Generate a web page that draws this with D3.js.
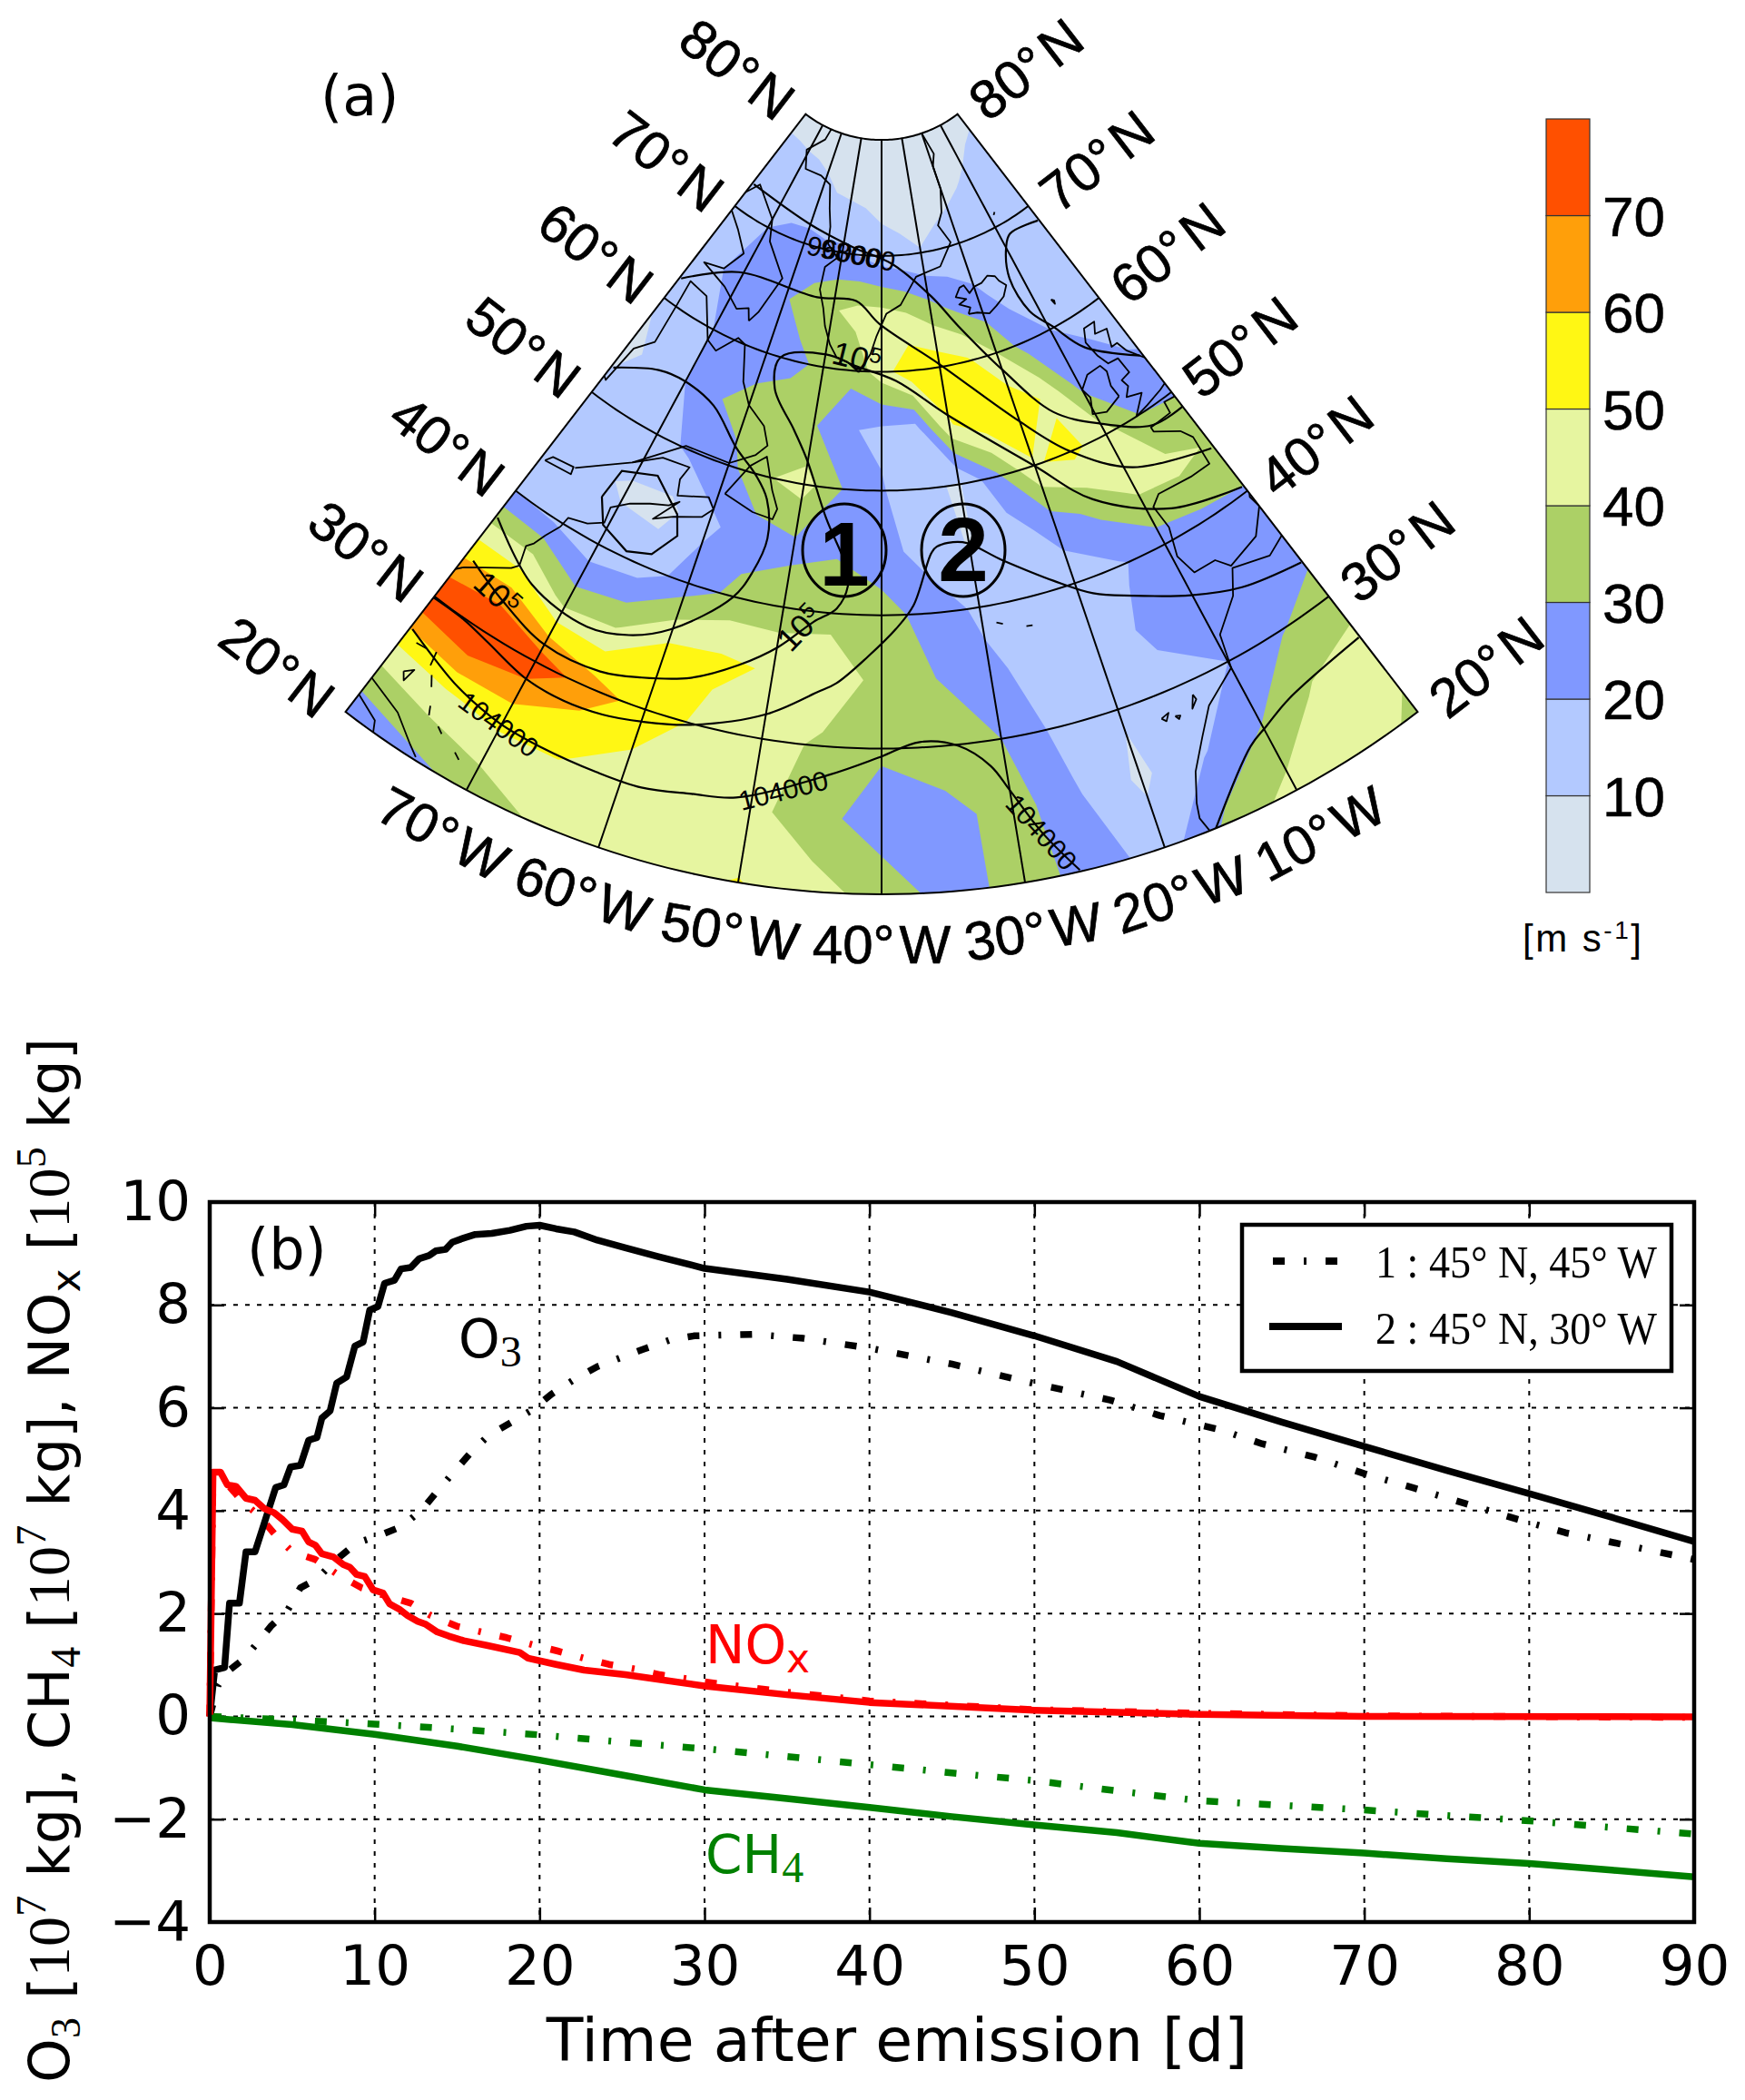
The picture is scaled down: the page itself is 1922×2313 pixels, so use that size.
<!DOCTYPE html><html><head><meta charset="utf-8"><style>html,body{margin:0;background:#fff}svg{display:block}</style></head><body><script src="https://cdn.jsdelivr.net/npm/d3@7"></script><svg id="s" width="1922" height="2313"></svg>
<script>
// ---------- panel (a) data: wind speed [m/s] on a 5 degree grid, lon -80..0 ----------
const gridLons=d3.range(-80,1,5), gridLats=d3.range(20,81,5);
const wind20=[22,27,33,41,45,47,50.5,44,36,25,35,25,15,33,44,45,38];
const wind25=[45,49,52,51,46,44,43,34,24,26,35,21,8,19,30,42,44];
const wind30=[80,85,77,65,56,47.5,45,38,32,37,30,17,11,17,20,29,36];
const wind35=[52,52,36,39,51,52,49,48,36,30,22,16,13,22,25,25,24];
const wind40=[20,18,13,15,24,33,34,36,34,26,18,14,14,19,25,27,29];
const wind45=[12,12,9,7,18,25,28,29,24,16,9.5,15,25,33,42,43,39];
const wind50=[12,13,16,22,27,39,44,30,21,12,9,28,49,53,44,30,29];
const wind55=[8,12,20,29,34,37,31,21,18,16,49,58,57,48,26,23,19];
const wind60=[11,14,20,24,25,27,33,34,45,58,56,51.5,40,25,20,17,13];
const wind65=[15,19,24,26,29,35,39,43,43,40,34,27,22,17,14,13,12];
const wind70=[15,17,20,22,23,22,22,19,15,13,10.5,13,14,15,15,16,19];
const wind75=[13,14,14,14,12,10,9,8,6,5,5,6,8,9.5,11,13,14];
const wind80=[8,7,6,5,5,4,4,4,4,4,4,4,5,5,6,7,8];
const windRows=[wind20,wind25,wind30,wind35,wind40,wind45,wind50,wind55,wind60,wind65,wind70,wind75,wind80];
const windLevels=[0,10,20,30,40,50,60,70];
const windColors=["#d6e2ee","#b3c9ff","#8098ff","#acd066","#e6f5a0","#fff714","#ff9f0a","#ff5000"];
const windTicks=[10,20,30,40,50,60,70];
// isobars [lon,lat]
const isobar1=[[-79.5,72.5],[-59.9,71.7],[-47.4,70.6],[-37.5,69.3],[-29.3,66.1],[-25.2,63.1],[-20,58.5],[-15.1,53.6],[-10,51],[-4.4,48.7],[0.1,48.5]];
const isobar2=[[-0.3,68.5],[-7.6,68.9],[-10,68],[-12.4,65.5],[-11.7,62.2],[-9.3,60.1],[-6.5,57.2],[-0.4,54]];
const isobar3=[[-79.7,62.2],[-70.9,65.4],[-53.7,65.8],[-45.4,66],[-40.4,64.1],[-30.1,60.3],[-20.2,54],[-15.2,50.1],[-9.1,46.6],[-0.3,44.4]];
const isobar4=[[-79.7,52.7],[-74.2,54.7],[-70.1,55],[-64.8,54.2],[-59.8,51.6],[-56.3,49.9],[-54.2,48.2],[-53.1,45.1],[-53.9,42.2],[-55.3,39.9],[-60.2,36.2],[-63.6,34.7],[-67.4,34],[-73.6,34.8],[-79.8,37.5]];
const isobar5=[[-0.2,40.5],[-7.6,42.2],[-14.9,45.7],[-20.1,50],[-30.1,55.9],[-37.6,59.2],[-44.4,60.4],[-49.9,61.1],[-57.5,60],[-57,57.3],[-52.7,54.3],[-50.1,52],[-46.7,47.5],[-43.9,43.7],[-43.6,42.2],[-44.6,40.4],[-46.8,39.2],[-49.9,36.9],[-53.2,35],[-57.1,33.2],[-61.2,32.1],[-64.7,31.4],[-70,31.4],[-75,32.6],[-79.2,33.8]];
const isobar6=[[-80,29.9],[-76.9,29.9],[-74.3,29.5],[-70,28.6],[-66.5,28.4],[-63.1,28.6],[-59.9,29.1],[-56,29.9],[-50,31.8],[-45.8,33.9],[-44.1,34.7],[-41.3,36.8],[-38.6,38.9],[-36.7,40.7],[-34.4,44.7],[-33.7,45.2],[-30.7,45.3],[-26.7,43.3],[-22,40.7],[-18.6,38.8],[-15.1,37.5],[-10.1,35.6],[-5.7,34.2],[-0.1,33.2]];
const isobar7=[[-79.8,27.2],[-76.9,26.4],[-74.3,25.7],[-70.2,25],[-66.6,24.8],[-62,24.7],[-58.4,24.7],[-54.6,25.2],[-51.2,25.6],[-44.2,28],[-40.1,29.4],[-36.8,30.4],[-33.6,29.9],[-31.2,28.2],[-30,26.3],[-28.2,23.1],[-26.1,20.1]];
const isobar8=[[-16.2,20],[-11.5,24],[-9.8,24.7],[-7.2,25.6],[-0.1,26.4]];
const isobarLoop=[[-72.1,43.4],[-71.6,46],[-67.6,47],[-63.7,44.8],[-62.8,43.2],[-64.6,41.1],[-67.1,40.5],[-70.5,41.5],[-72.1,43.4]];
const isobars=[isobar1,isobar2,isobar3,isobar4,isobar5,isobar6,isobar7,isobar8];
const isobarLabels=[[-49.5,70.1,"96000",11],[-46,70,"98000",11],[-44.5,61,"105",14],[-75.8,32.7,"105",42],[-48,38.5,"105",-46],[-70.2,24.9,"104000",36],[-47.7,26.6,"104000",-14],[-28.2,23.1,"104000",48]];
// coastlines [lon,lat]
const coastGreenlandW=[[-43.9,59.9],[-46,60.7],[-48,61],[-49.5,62],[-51,63.5],[-52,65],[-53.5,66.5],[-53.5,68.5],[-51,69.5],[-54,70.5],[-54.5,72],[-56,73.5],[-58,75.5],[-62,76],[-68,76],[-71,77.5],[-66,79],[-65,80.5]];
const coastGreenlandE=[[-43.9,59.9],[-42,61.5],[-41,63],[-39,65],[-36,65.7],[-32,68],[-26,68.5],[-22,70.3],[-24,72],[-22,73],[-20,75],[-20,77],[-18,78],[-20,80],[-16,81]];
const coastIceland=[[-22.7,63.9],[-22,64.4],[-24,64.9],[-22.3,65.2],[-24.3,65.6],[-23,66.3],[-22,66.4],[-21.3,65.6],[-20,66],[-18.2,66.1],[-16.5,66.5],[-15,66.2],[-14.6,65.7],[-13.6,65.1],[-15,64.3],[-17,63.8],[-18.8,63.4],[-21,63.8],[-22.7,63.9]];
const coastBritain=[[-5.5,50],[-3.5,50.3],[-1,50.7],[1.4,51.2],[1.7,52.7],[0,53],[0,53.6],[-1.5,55],[-2,56],[-3,56],[-2,57.5],[-4,57.7],[-3,58.6],[-5,58.6],[-6,57.5],[-5.5,56],[-4.8,55],[-3.2,54.9],[-3,53.4],[-4.5,53.2],[-4.2,52.5],[-5.2,51.8],[-3.2,51.4],[-5.5,50]];
const coastIreland=[[-6,52.2],[-8.5,51.6],[-10.3,52],[-9.5,53.3],[-10,54.2],[-8.3,55.1],[-6,55.2],[-5.6,54.5],[-6.2,53.3],[-6,52.2]];
const coastIberia=[[1,50],[0.5,49.5],[-1.5,49.7],[-1.7,48.7],[-4.7,48.6],[-4.7,48.2],[-2,47],[-1.2,46],[-1.5,43.5],[-4,43.5],[-8,43.7],[-9.2,43],[-8.8,41],[-9.5,38.7],[-8.8,37],[-6.5,37],[-5.5,36],[-2,36.8],[0,38.5],[-0.2,39.5],[1,41]];
const coastAfrica=[[1,36],[-2,35],[-5.5,35.8],[-6.8,34],[-9.5,32],[-10,29.5],[-13,27.8],[-14.5,26],[-16,24],[-16.8,22],[-17,21],[-16.5,19.5]];
const coastEastUS=[[-81,31.5],[-79.5,33],[-78,33.9],[-76,35],[-75.5,35.5],[-76,37],[-75.5,37.5],[-75,38.5],[-74.2,39.7],[-74,40.6],[-72,41],[-70.5,41.7],[-70.7,43],[-69,44],[-67,44.7],[-65,45.2],[-64,45.8],[-66,43.7],[-64,44.5],[-61,45.3],[-60,46.2],[-61,47],[-64.5,46.2],[-65,47.5],[-64.5,48.7],[-68,48.5],[-71,47],[-74,45.5],[-76.3,44.2]];
const coastLabrador=[[-71,47],[-66,50.2],[-60,50.2],[-57,51.5],[-55.8,52.5],[-57,54],[-60,55.3],[-62,57],[-64,60],[-65.5,60.3],[-68,58.5],[-70,59],[-74,62.2],[-78,62.5],[-77.5,60],[-77,56.5],[-79,55],[-79.5,51.5],[-82,52.5]];
const coastBaffin=[[-65,62],[-66,63],[-68,62.5],[-72,63.7],[-78,64.5],[-74,65],[-72,67],[-76,68.5],[-82,70],[-78,72.8],[-70,70.8],[-68,69],[-62,66.5],[-64,63],[-65,62]];
const coastNewfoundland=[[-59.3,47.7],[-55.5,46.9],[-53,46.7],[-52.7,47.6],[-53.8,49],[-55.5,51.6],[-57.3,50.5],[-59.3,47.7]];
const coastOntario=[[-79.5,43.3],[-76.3,43.6],[-76.5,44.2],[-79,43.9],[-79.5,43.3]];
const coastCubaN=[[-81,23.1],[-77,22],[-75,20.7],[-74.2,20.2]];
const coastCubaS=[[-81,21.8],[-78,20.7],[-77.5,19.8]];
const coastIslands=[[[-78.4,24.5],[-77.8,25],[-78,24],[-78.4,24.5]],[[-78.9,26.6],[-78,26.7]],[[-77.2,26.9],[-77,25.9]],[[-76.5,25.4],[-76,24.7]],[[-75.3,23.6],[-75,23]],[[-74,22.7],[-73.5,22.4]],[[-72,21.8],[-71.5,21.5]],[[-13.8,29],[-14.3,28.1],[-13.7,28.6],[-13.8,29]],[[-15.8,28.1],[-15.4,28],[-15.6,27.8],[-15.8,28.1]],[[-16.9,28.3],[-16.2,28.5],[-16.6,28],[-16.9,28.3]],[[-28.6,38.6],[-28,38.4]],[[-25.8,37.85],[-25.2,37.8]],[[-7.2,62.2],[-6.8,62],[-7,61.7],[-7.2,62.2]],[[-8.8,71],[-8.2,71.2]]];
const coasts=[coastGreenlandW,coastGreenlandE,coastIceland,coastBritain,coastIreland,coastIberia,coastAfrica,coastEastUS,coastLabrador,coastBaffin,coastNewfoundland,coastOntario,coastCubaN,coastCubaS,...coastIslands];
const latTicks=[20,30,40,50,60,70,80], lonTicks=[-70,-60,-50,-40,-30,-20,-10];
// ---------- panel (b) data ----------
const tO3b=[0,.3,.9,1.2,1.8,2.2,2.75,3.4,4,4.5,4.9,5.5,6,6.5,6.8,7.3,7.7,8.3,8.8,9.3,9.7,10.2,10.6,11.2,11.6,12.2,12.7,13.3,13.7,14.3,14.7,15.4,16.1,17.1,18.2,19.2,20,21,22.1,23.5,25.2,27.2,30,35,40,45,50,55,60,65,70,75,80,85,90];
const o3b=[0,.9,.95,2.2,2.2,3.2,3.2,3.85,4.45,4.5,4.85,4.88,5.37,5.42,5.8,5.94,6.48,6.6,7.2,7.28,7.9,7.97,8.42,8.48,8.7,8.73,8.9,8.96,9.05,9.08,9.22,9.3,9.37,9.39,9.45,9.53,9.55,9.48,9.42,9.26,9.11,8.94,8.71,8.5,8.25,7.85,7.4,6.9,6.22,5.72,5.25,4.78,4.33,3.87,3.4];
const tO3a=[0,.5,1,2,2.9,3.7,4.7,5.5,6.5,7.5,8.9,10.3,11.7,12.9,13.8,14.8,15.8,16.9,18.3,19.6,20.7,22.1,23.5,24.9,26.3,27.9,29.4,33,36,40,45,50,54.6,57.6,61.3,63.8,67,70,73,76.1,79.2,82.2,85.4,90];
const o3a=[0,.6,.85,1.1,1.43,1.75,2.05,2.5,2.67,3,3.37,3.52,3.7,4.03,4.38,4.75,5.12,5.46,5.72,5.97,6.26,6.55,6.8,6.97,7.14,7.32,7.4,7.43,7.35,7.16,6.85,6.47,6.15,5.85,5.57,5.3,5.04,4.72,4.44,4.14,3.84,3.57,3.36,3.05];
const tNOxb=[0,.2,.65,1.07,1.6,2.2,2.75,3.3,3.9,4.4,5,5.6,6,6.4,6.8,7.5,8.1,8.5,8.9,9.4,9.9,10.5,10.9,11.5,12,12.6,13.1,13.8,14.5,15.4,16.8,18.8,19.3,21,22.7,25.2,30,35,40,50,60,70,90];
const noxb=[0,4.75,4.75,4.5,4.47,4.24,4.2,4.04,3.96,3.83,3.64,3.6,3.39,3.33,3.16,3.1,2.95,2.9,2.76,2.72,2.46,2.4,2.19,2.08,1.96,1.85,1.79,1.64,1.56,1.47,1.38,1.24,1.13,1.01,.9,.81,.59,.42,.27,.12,.04,0,-.01];
const tNOxa=[0,.2,.7,2,3,4,5,6.4,7.8,9.2,10.6,12.2,13.4,15,16.5,18,19.6,21.1,22.7,24.2,25.8,27.3,28.9,30,35,40,50,60,70,90];
const noxa=[0,4.7,4.65,4.17,3.9,3.52,3.2,3.05,2.75,2.5,2.35,2.2,1.96,1.75,1.64,1.53,1.39,1.27,1.13,1.01,.92,.81,.73,.67,.47,.3,.13,.06,.01,-.02];
const tCH4=[0,5,10,15,20,25,30,35,40,45,50,55,60,65,70,75,80,85,90];
const ch4b=[-.03,-.16,-.35,-.58,-.85,-1.14,-1.43,-1.6,-1.77,-1.95,-2.11,-2.26,-2.47,-2.57,-2.66,-2.77,-2.86,-2.99,-3.12];
const ch4a=[0,-.07,-.15,-.25,-.36,-.5,-.63,-.78,-.94,-1.1,-1.25,-1.45,-1.64,-1.73,-1.82,-1.93,-2.03,-2.16,-2.29];
const xTicks=d3.range(0,91,10), yTicks=d3.range(-4,11,2);

const svg=d3.select("#s");
// ---- projection ----
const proj=d3.geoConicConformal().rotate([40,0]).parallels([70,70]).scale(1).translate([0,0]);
{const a=proj([-40,90]),b=proj([-40,20]);const k=968/(b[1]-a[1]);proj.scale(k).translate([971,17-a[1]*k]);}
const geoLine=d3.line().x(d=>proj(d)[0]).y(d=>proj(d)[1]);
const smoothLine=d3.line().x(d=>proj(d)[0]).y(d=>proj(d)[1]).curve(d3.curveCatmullRom.alpha(.5));
const outline=[...d3.range(-80,.01,1).map(l=>[l,20]),...d3.range(0,-80.01,-1).map(l=>[l,80])];
const defs=svg.append("defs");
defs.append("clipPath").attr("id","sector").append("path").attr("d",geoLine(outline)+"Z");
const map=svg.append("g").attr("clip-path","url(#sector)");
const contours=d3.contours().size([gridLons.length,gridLats.length]).thresholds(windLevels).smooth(true)(windRows.flat());
const toLL=([x,y])=>[gridLons[0]+(x-.5)*5,gridLats[0]+(y-.5)*5];
map.selectAll("path.band").data(contours).join("path").attr("class","band")
 .attr("fill",(d,i)=>windColors[i]).attr("fill-rule","evenodd")
 .attr("d",d=>d.coordinates.map(poly=>poly.map(ring=>geoLine(ring.map(toLL))+"Z").join("")).join(""));
map.selectAll("path.coast").data(coasts).join("path").attr("class","coast").attr("d",geoLine).attr("fill","none").attr("stroke","#000").attr("stroke-width",1.8).attr("stroke-linejoin","round");
const parallels=[30,40,50,60,70].map(la=>d3.range(-80,.01,1).map(l=>[l,la]));
const meridians=lonTicks.map(l=>d3.range(20,80.01,1).map(la=>[l,la]));
map.selectAll("path.grat").data([...parallels,...meridians]).join("path").attr("class","grat").attr("d",geoLine).attr("fill","none").attr("stroke","#000").attr("stroke-width",2);
map.selectAll("path.iso").data(isobars).join("path").attr("class","iso").attr("d",smoothLine).attr("fill","none").attr("stroke","#000").attr("stroke-width",2.2);
map.append("path").attr("d",geoLine(isobarLoop)).attr("fill","none").attr("stroke","#000").attr("stroke-width",2.2);
svg.append("path").attr("d",geoLine(outline)+"Z").attr("fill","none").attr("stroke","#000").attr("stroke-width",2);
// isobar labels
isobarLabels.forEach(([lo,la,t,a])=>{const [x,y]=proj([lo,la]);
 const g=svg.append("text").attr("transform",`translate(${x},${y}) rotate(${a})`).attr("text-anchor","middle").attr("dy",".36em").attr("font-family","Liberation Sans").attr("font-size",30);
 if(t==="105"){g.append("tspan").text("10").attr("font-size",36);g.append("tspan").text("5").attr("font-size",24).attr("dy",-12);}
 else g.text(t);});
function lab(x,y,a,t){svg.append("text").attr("transform",`translate(${x},${y}) rotate(${a})`).attr("text-anchor","middle").attr("dy",".36em").attr("font-family","Liberation Sans").attr("font-size",60).attr("stroke","#000").attr("stroke-width",.7).text(t);}
latTicks.forEach(la=>{let p=proj([-80,la]);lab(p[0]-75,p[1]-50,37.6,`${la}°\u200AN`);p=proj([0,la]);lab(p[0]+75,p[1]-50,-37.6,`${la}°\u200AN`);});
lonTicks.forEach(l=>{const p=proj([l,20]);const th=(l+40)*.9397;const r=th*Math.PI/180;lab(p[0]+54*Math.sin(r),p[1]+54*Math.cos(r),-th,`${Math.abs(l)}°\u200AW`);});
svg.append("text").attr("x",353).attr("y",127).attr("font-family","DejaVu Sans").attr("font-size",62).text("(a)");
// start markers
[[930,606,"1",645],[1061,606,"2",640]].forEach(([x,y,t,b])=>{svg.append("ellipse").attr("cx",x).attr("cy",y).attr("rx",46).attr("ry",51).attr("fill","none").attr("stroke","#000").attr("stroke-width",3);
 svg.append("text").attr("x",x).attr("y",b).attr("text-anchor","middle").attr("font-family","Liberation Sans").attr("font-weight","bold").attr("font-size",100).text(t);});
// colour bar
const cbY=d3.scaleLinear().domain([0,80]).range([983,131]);
const cb=svg.append("g");
cb.selectAll("rect").data(windLevels).join("rect").attr("x",1703).attr("width",48).attr("y",d=>cbY(d+10)).attr("height",d=>cbY(d)-cbY(d+10)).attr("fill",(d,i)=>windColors[i]).attr("stroke","#333").attr("stroke-width",1.2);
cb.selectAll("text").data(windTicks).join("text").attr("x",1765).attr("y",d=>cbY(d)).attr("dy",".36em").attr("font-family","Liberation Sans").attr("font-size",62).attr("stroke","#000").attr("stroke-width",.5).text(d=>d);
const u=svg.append("text").attr("x",1677).attr("y",1048).attr("font-family","Liberation Sans").attr("font-size",42).attr("letter-spacing",2.5);
u.append("tspan").text("[m s");u.append("tspan").text("-1").attr("font-size",28).attr("dy",-14);u.append("tspan").text("]").attr("dy",14);

// ---- panel (b) ----
const x=d3.scaleLinear().domain([0,90]).range([231,1866]);
const y=d3.scaleLinear().domain([-4,10]).range([2117,1324]);
const gg=svg.append("g").attr("stroke","#000").attr("stroke-width",2).attr("stroke-dasharray","5 8");
xTicks.slice(1,-1).forEach(t=>gg.append("line").attr("x1",x(t)).attr("x2",x(t)).attr("y1",1324).attr("y2",2117));
yTicks.slice(1,-1).forEach(t=>gg.append("line").attr("y1",y(t)).attr("y2",y(t)).attr("x1",231).attr("x2",1866));
const tickLine=s=>s.attr("stroke","#000").attr("stroke-width",2.5);
const axB=svg.append("g").attr("transform","translate(0,2117)").call(d3.axisBottom(x).tickValues(xTicks).tickSize(-16).tickPadding(26));
const axL=svg.append("g").attr("transform","translate(231,0)").call(d3.axisLeft(y).tickValues(yTicks).tickSize(-16).tickPadding(21));
const axT=svg.append("g").attr("transform","translate(0,1324)").call(d3.axisTop(x).tickValues(xTicks).tickSize(-16).tickFormat(""));
const axR=svg.append("g").attr("transform","translate(1866,0)").call(d3.axisRight(y).tickValues(yTicks).tickSize(-16).tickFormat(""));
[axB,axL,axT,axR].forEach(a=>{a.selectAll(".domain").remove();a.selectAll("line").call(tickLine);a.selectAll("text").attr("font-family","DejaVu Sans").attr("font-size",61).attr("fill","#000");});
const curve=d3.line().x(d=>x(d[0])).y(d=>y(d[1])).curve(d3.curveLinear);
const zip=(t,v)=>t.map((d,i)=>[d,v[i]]);
const DD="13 21 3 21";
const lines=[[zip(tO3a,o3a),"#000",DD],[zip(tNOxa,noxa),"#f00",DD],[zip(tCH4,ch4a),"#008000",DD],[zip(tO3b,o3b),"#000",null],[zip(tNOxb,noxb),"#f00",null],[zip(tCH4,ch4b),"#008000",null]];
svg.selectAll("path.ser").data(lines).join("path").attr("class","ser").attr("d",d=>curve(d[0])).attr("fill","none").attr("stroke",d=>d[1]).attr("stroke-width",7.5).attr("stroke-linejoin","round").attr("stroke-dasharray",d=>d[2]);
svg.append("rect").attr("x",231).attr("y",1324).attr("width",1635).attr("height",793).attr("fill","none").attr("stroke","#000").attr("stroke-width",4.5);
// legend
const lg=svg.append("g");
lg.append("rect").attr("x",1368).attr("y",1349).attr("width",473).attr("height",161).attr("fill","#fff").attr("stroke","#000").attr("stroke-width",4.5);
lg.append("line").attr("x1",1402).attr("x2",1480).attr("y1",1389).attr("y2",1389).attr("stroke","#000").attr("stroke-width",8).attr("stroke-dasharray","13 21 3 21 13");
lg.append("line").attr("x1",1398).attr("x2",1478).attr("y1",1461).attr("y2",1461).attr("stroke","#000").attr("stroke-width",8);
[[1407,"1 : 45° N, 45° W"],[1480,"2 : 45° N, 30° W"]].forEach(([b,t])=>lg.append("text").attr("x",1515).attr("y",b).attr("font-family","Liberation Serif").attr("font-size",50).attr("textLength",310).attr("lengthAdjust","spacingAndGlyphs").text(t));
svg.append("text").attr("x",272).attr("y",1397).attr("font-family","DejaVu Sans").attr("font-size",62).text("(b)");
// in-plot labels
function rich(sel,parts){let prev=0;parts.forEach(([t,fam,sz,d])=>{sel.append("tspan").text(t).attr("font-family",fam).attr("font-size",sz).attr("dy",d-prev);prev=d;});}
rich(svg.append("text").attr("x",505).attr("y",1495),[["O","DejaVu Sans",58,0],["3","Liberation Serif",48,10]]);
rich(svg.append("text").attr("x",777).attr("y",1832).attr("fill","#f00"),[["NO","DejaVu Sans",58,0],["x","DejaVu Sans",44,10]]);
rich(svg.append("text").attr("x",777).attr("y",2063).attr("fill","#008000"),[["CH","DejaVu Sans",58,0],["4","Liberation Serif",48,10]]);
svg.append("text").attr("x",988).attr("y",2270).attr("text-anchor","middle").attr("font-family","DejaVu Sans").attr("font-size",66.5).text("Time after emission [d]");
const S="Liberation Serif",D="DejaVu Sans";
rich(svg.append("text").attr("transform","translate(76,2294) rotate(-90)").attr("textLength",1151).attr("lengthAdjust","spacing"),[
["O",D,62,0],["3",S,46,12],[" [",D,62,0],["10",S,66,0],["7",S,46,-26],[" kg], CH",D,62,0],["4",S,46,12],[" [",D,62,0],["10",S,66,0],["7",S,46,-26],[" kg], NO",D,62,0],["x",D,44,12],[" [",D,62,0],["10",S,66,0],["5",S,46,-26],[" kg]",D,62,0]]);
</script></body></html>
